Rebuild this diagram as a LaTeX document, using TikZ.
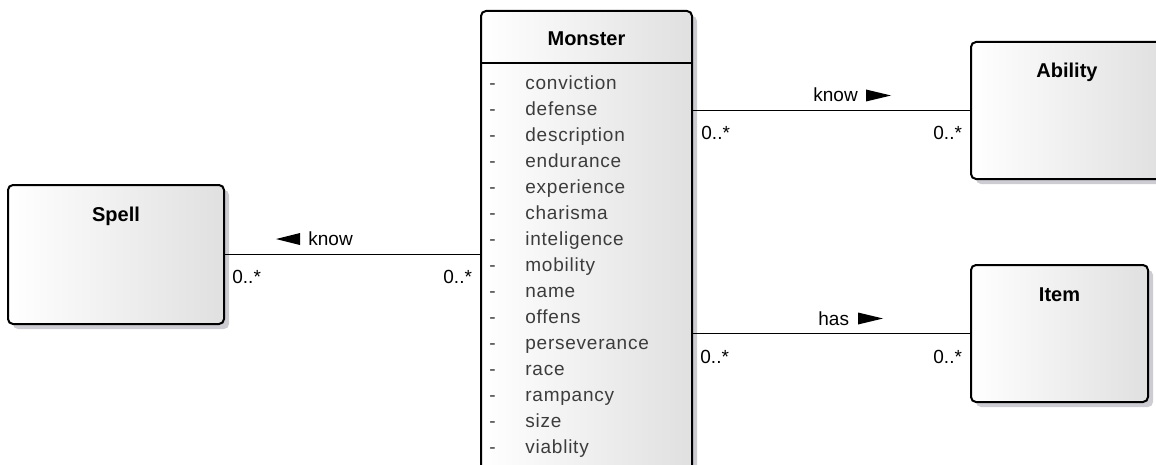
\documentclass[tikz,border=0pt]{standalone}
\usepackage{fontspec}
\setmainfont{Liberation Sans}
\newfontfamily\attrfont[LetterSpace=4]{Liberation Sans}
\usetikzlibrary{shadows,fit}
\definecolor{boxgray}{RGB}{224,224,224}
\definecolor{shadowgray}{RGB}{204,204,210}
\definecolor{attrgray}{RGB}{60,60,60}
\tikzset{
  umlbox/.style={draw=black, line width=1pt, rounded corners=2.5pt,
    left color=white, right color=boxgray, inner sep=0pt,
    drop shadow={shadow xshift=2.5pt, shadow yshift=-2.5pt, fill=shadowgray, opacity=1}},
  titletext/.style={font=\fontsize{10}{12}\selectfont\bfseries, anchor=base, inner sep=0pt},
  attr/.style={font=\fontsize{9.5}{11}\selectfont\attrfont, text=attrgray, anchor=base west, inner sep=0pt},
  lbl/.style={font=\fontsize{9.5}{11}\selectfont, anchor=base west, inner sep=0pt},
  assoc/.style={line width=0.75pt},
  tri/.style={fill=black},
}
\begin{document}
\begin{tikzpicture}[x=0.5pt,y=-0.5pt]
\useasboundingbox (0,0) rectangle (1156,465);
% boxes
\node[umlbox, fit={(8,185)(224,324)}] (spell) {};
\node[umlbox, fit={(481,11)(692,490)}] (monster) {};
\node[umlbox, fit={(971,42)(1163,179)}] (ability) {};
\node[umlbox, fit={(971,265)(1148,402)}] (item) {};
% titles
\node[titletext] (spelltitle) at (116,221) {Spell};
\node[titletext] (monstertitle) at (586.5,46) {Monster};
\node[titletext] (abilitytitle) at (1067,78) {Ability};
\node[titletext] (itemtitle) at (1059.5,301) {Item};
% monster header separator
\coordinate (hdr) at (0,63);
\draw[line width=1pt] (monster.west |- hdr) -- (monster.east |- hdr);
% attributes
\foreach \t [count=\i from 0] in {conviction,defense,description,endurance,experience,charisma,inteligence,mobility,name,offens,perseverance,race,rampancy,size,viablity}{
  \node[attr] (dash\i) at (489,{90+25.93*\i}) {-};
  \node[attr] (attr\i) at (525,{90+25.93*\i}) {\t};
}
% associations
\draw[assoc] (spell.east) -- (spell.east -| monster.west);
\draw[assoc] (ability.west -| monster.east) -- (ability.west);
\draw[assoc] (item.west -| monster.east) -- (item.west);
% association names
\fill[tri] (276,239) -- (300,233) -- (300,245) -- cycle;
\node[lbl] (know1) at (308,245) {know};
\node[lbl] (know2) at (813,102) {know};
\fill[tri] (891,95.5) -- (866,89.5) -- (866,101.5) -- cycle;
\node[lbl] (has) at (818,325) {has};
\fill[tri] (883,318.5) -- (858,312.5) -- (858,324.5) -- cycle;
% multiplicities
\node[lbl] (m1) at (232,283) {0..*};
\node[lbl] (m2) at (443,283) {0..*};
\node[lbl] (m3) at (701,140) {0..*};
\node[lbl] (m4) at (933,140) {0..*};
\node[lbl] (m5) at (700,363) {0..*};
\node[lbl] (m6) at (933,363) {0..*};
\end{tikzpicture}
\end{document}
